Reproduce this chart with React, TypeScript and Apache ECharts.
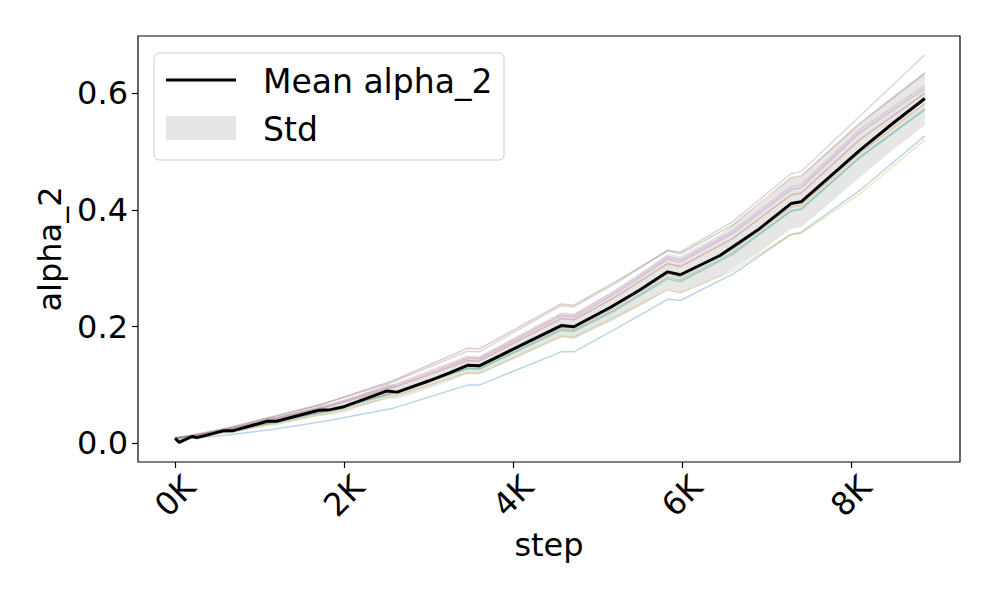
import React, { useEffect, useRef } from "react";
import * as echarts from "echarts";

// ---- data ----
const meanSteps = [0, 50, 200, 260, 420, 580, 690, 1090, 1200, 1700, 1840, 2000, 2510, 2630, 3000, 3250, 3460, 3600, 4050, 4570, 4720, 5150, 5500, 5830, 5980, 6450, 6900, 7290, 7410, 7710, 8110, 8500, 8874];
const meanValues = [0.009, 0.002, 0.012, 0.010, 0.016, 0.022, 0.022, 0.038, 0.038, 0.057, 0.058, 0.063, 0.090, 0.088, 0.107, 0.121, 0.134, 0.133, 0.165, 0.202, 0.200, 0.233, 0.263, 0.294, 0.289, 0.322, 0.366, 0.411, 0.414, 0.452, 0.503, 0.549, 0.591];
const stdValues = [0.002, 0.002, 0.003, 0.003, 0.004, 0.005, 0.005, 0.007, 0.007, 0.009, 0.009, 0.010, 0.012, 0.012, 0.013, 0.014, 0.015, 0.015, 0.018, 0.021, 0.021, 0.025, 0.028, 0.031, 0.032, 0.036, 0.040, 0.043, 0.043, 0.045, 0.046, 0.046, 0.046];

const runSteps = [0, 200, 600, 1150, 1770, 2570, 3460, 3600, 4570, 4720, 5200, 5830, 5980, 6600, 7290, 7410, 8100, 8874];
const runBlue = [0.006, 0.009, 0.014, 0.024, 0.038, 0.060, 0.100, 0.100, 0.157, 0.157, 0.195, 0.247, 0.245, 0.290, 0.358, 0.362, 0.433, 0.527];
const runOrange = [0.009, 0.012, 0.021, 0.037, 0.056, 0.087, 0.132, 0.131, 0.199, 0.197, 0.233, 0.290, 0.285, 0.332, 0.405, 0.408, 0.497, 0.582];
const runGreen = [0.009, 0.011, 0.020, 0.035, 0.054, 0.085, 0.128, 0.127, 0.194, 0.192, 0.227, 0.282, 0.277, 0.324, 0.398, 0.401, 0.489, 0.572];
const runRed = [0.009, 0.013, 0.023, 0.041, 0.061, 0.095, 0.142, 0.141, 0.214, 0.212, 0.250, 0.308, 0.303, 0.351, 0.426, 0.429, 0.520, 0.600];
const runPurple = [0.009, 0.013, 0.024, 0.042, 0.063, 0.098, 0.146, 0.145, 0.219, 0.217, 0.256, 0.316, 0.311, 0.360, 0.435, 0.438, 0.532, 0.608];
const runBrown = [0.010, 0.014, 0.026, 0.046, 0.069, 0.107, 0.163, 0.162, 0.239, 0.237, 0.276, 0.330, 0.325, 0.374, 0.455, 0.458, 0.548, 0.634];
const runPink = [0.009, 0.013, 0.024, 0.043, 0.064, 0.100, 0.149, 0.148, 0.223, 0.221, 0.260, 0.320, 0.315, 0.364, 0.440, 0.443, 0.537, 0.613];
const runGrey = [0.010, 0.014, 0.025, 0.045, 0.068, 0.105, 0.158, 0.157, 0.236, 0.234, 0.273, 0.331, 0.328, 0.380, 0.462, 0.466, 0.560, 0.666];
const runOlive = [0.008, 0.011, 0.019, 0.033, 0.050, 0.080, 0.121, 0.120, 0.184, 0.182, 0.216, 0.263, 0.258, 0.296, 0.358, 0.360, 0.427, 0.520];
const runCyan = [0.009, 0.011, 0.021, 0.036, 0.055, 0.086, 0.129, 0.128, 0.196, 0.194, 0.229, 0.285, 0.280, 0.327, 0.399, 0.402, 0.490, 0.573];

const runs = [runBlue, runOrange, runGreen, runRed, runPurple, runBrown, runPink, runGrey, runOlive, runCyan];
const runColors = ["#1f77b4", "#ff7f0e", "#2ca02c", "#d62728", "#9467bd", "#8c564b", "#e377c2", "#7f7f7f", "#bcbd22", "#17becf"];

const xTicks = [0, 2000, 4000, 6000, 8000];
const yTicks = [0, 0.2, 0.4, 0.6];

const FONT = "DejaVu Sans";

export default function App() {
  const ref = useRef<HTMLDivElement>(null);
  useEffect(() => {
    if (!ref.current) return;
    const chart = echarts.init(ref.current, undefined, { renderer: "svg" });

    const bandData = meanSteps.map((s, i) => [s, meanValues[i] - stdValues[i], meanValues[i] + stdValues[i]]);

    const series: any[] = [];
    runs.forEach((r, k) => {
      series.push({
        type: "line",
        data: runSteps.map((s, i) => [s, r[i]]),
        showSymbol: false,
        lineStyle: { color: runColors[k], width: 1.5, opacity: 0.3 },
        silent: true,
        z: 2,
      });
    });
    series.push({
      type: "custom",
      data: bandData,
      encode: { x: 0, y: [1, 2] },
      silent: true,
      z: 3,
      clip: true,
      renderItem: (params: any, api: any) => {
        if (params.dataIndex !== 0) return null;
        const upper = bandData.map((d) => api.coord([d[0], d[2]]));
        const lower = bandData.map((d) => api.coord([d[0], d[1]])).reverse();
        return {
          type: "polygon",
          shape: { points: upper.concat(lower) },
          style: { fill: "rgba(128,128,128,0.2)", stroke: "none" },
        };
      },
    });
    series.push({
      type: "line",
      data: meanSteps.map((s, i) => [s, meanValues[i]]),
      showSymbol: false,
      lineStyle: { color: "#000", width: 3 },
      silent: true,
      z: 4,
    });

    chart.setOption({
      animation: false,
      grid: {
        left: 138,
        right: 36,
        top: 36,
        bottom: 136,
        show: true,
        borderColor: "#000",
        borderWidth: 1.2,
        backgroundColor: "transparent",
      },
      xAxis: {
        type: "value",
        min: -438,
        max: 9290,
        name: "step",
        nameLocation: "middle",
        nameGap: 64,
        nameTextStyle: { fontSize: 32, fontFamily: FONT, color: "#000" },
        axisLine: { show: false, onZero: false },
        splitLine: { show: false },
        axisTick: {
          show: true,
          length: 6,
          customValues: xTicks,
          lineStyle: { color: "#000", width: 1.2 },
        },
        axisLabel: {
          customValues: xTicks,
          formatter: (v: number) => `${Math.round(v / 1000)}K`,
          rotate: 45,
          align: "center",
          verticalAlign: "middle",
          margin: 34,
          fontSize: 32,
          fontFamily: FONT,
          color: "#000",
        },
      },
      yAxis: {
        type: "value",
        min: -0.0317,
        max: 0.698,
        name: "alpha_2",
        nameLocation: "middle",
        nameGap: 66,
        nameRotate: 90,
        nameTextStyle: { fontSize: 32, fontFamily: FONT, color: "#000" },
        axisLine: { show: false, onZero: false },
        splitLine: { show: false },
        axisTick: {
          show: true,
          length: 6,
          customValues: yTicks,
          lineStyle: { color: "#000", width: 1.2 },
        },
        axisLabel: {
          customValues: yTicks,
          formatter: (v: number) => v.toFixed(1),
          margin: 10,
          fontSize: 32,
          fontFamily: FONT,
          color: "#000",
        },
      },
      series,
      graphic: [
        {
          type: "rect",
          shape: { x: 154, y: 53, width: 350, height: 107, r: 5 },
          style: { fill: "rgba(255,255,255,0.8)", stroke: "#cccccc", lineWidth: 1 },
          z: 100,
        },
        {
          type: "line",
          shape: { x1: 166, y1: 80, x2: 236, y2: 80 },
          style: { stroke: "#000", lineWidth: 3 },
          z: 101,
        },
        {
          type: "rect",
          shape: { x: 166, y: 116, width: 70, height: 24 },
          style: { fill: "#e6e6e6" },
          z: 101,
        },
        {
          type: "text",
          x: 263,
          y: 81,
          style: { text: "Mean alpha_2", fontSize: 33, fontFamily: FONT, fill: "#000", verticalAlign: "middle" },
          z: 101,
        },
        {
          type: "text",
          x: 263,
          y: 129,
          style: { text: "Std", fontSize: 33, fontFamily: FONT, fill: "#000", verticalAlign: "middle" },
          z: 101,
        },
      ],
    });
    return () => chart.dispose();
  }, []);
  return (
    <div
      ref={ref}
      style={{ position: "fixed", left: 0, top: 0, width: 996, height: 598, background: "#fff" }}
    />
  );
}
